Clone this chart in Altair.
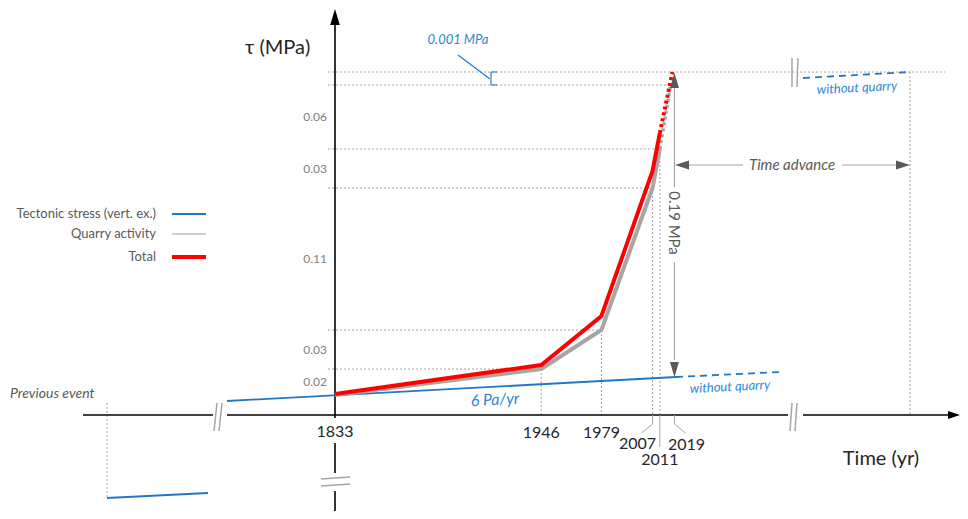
import altair as alt
import pandas as pd

# ---------------- data (schematic stress levels / years) ----------------
years = [1833, 1946, 1979, 2007, 2011]
proj_year = 2019
total_level = [394, 365, 316, 171, 133]      # schematic level of total stress
quarry_level = [395, 369, 330, 188, 149]     # schematic level of quarry-induced stress
total_proj = 72
quarry_proj = 86
guide_levels = [394, 369, 330, 188, 149, 85, 72]
increment_labels = ["0.02", "0.03", "0.11", "0.03", "0.06"]
year_labels = ["1833", "1946", "1979", "2007", "2011", "2019"]
year_label_dx = [0, 0, 0, -15, 0, 12]
year_label_row = [432, 433, 433, 444, 460, 445]
tectonic_x = [227, 676]
tectonic_level = [401, 377]
tectonic_future_x = [676, 780]
tectonic_future_level = [377, 372]
prev_event_x = [107, 208]
prev_event_level = [498, 493]
noquarry_x = [803, 910]
noquarry_level = [78, 72]
legend_names = ["Tectonic stress (vert. ex.)", "Quarry activity", "Total"]
legend_colors = ["#1f78c8", "#bfbfbf", "#ff0000"]
legend_widths = [2, 1.5, 4]
legend_rows = [214, 234, 257]

BLUE = "#1f78c8"
RED = "#ff0000"
GRAY = "#a6a6a6"
FONT = "Lato"

W, H = 952, 503
XS = alt.Scale(domain=[8, 8 + W], nice=False, zero=False)
YS = alt.Scale(domain=[8, 8 + H], nice=False, zero=False, reverse=True)


def xp(year):
    return 335 + (year - 1833) * 1.825


def segs(rows, color, width, dash=None, cap="butt"):
    df = pd.DataFrame(rows, columns=["x", "y", "x2", "y2"])
    kw = dict(color=color, strokeWidth=width, strokeCap=cap)
    if dash:
        kw["strokeDash"] = dash
    return alt.Chart(df).mark_rule(**kw).encode(
        x=alt.X("x:Q", scale=XS, axis=None),
        y=alt.Y("y:Q", scale=YS, axis=None),
        x2="x2:Q",
        y2="y2:Q",
    )


def poly(xv, yv, color, width, dash=None):
    df = pd.DataFrame({"x": xv, "y": yv, "o": list(range(len(xv)))})
    kw = dict(color=color, strokeWidth=width, strokeJoin="miter", strokeCap="butt")
    if dash:
        kw["strokeDash"] = dash
    return alt.Chart(df).mark_line(**kw).encode(
        x=alt.X("x:Q", scale=XS, axis=None),
        y=alt.Y("y:Q", scale=YS, axis=None),
        order="o:Q",
    )


def texts(rows, **style):
    df = pd.DataFrame(rows, columns=["x", "y", "t"])
    st = dict(font=FONT)
    st.update(style)
    return alt.Chart(df).mark_text(**st).encode(
        x=alt.X("x:Q", scale=XS, axis=None),
        y=alt.Y("y:Q", scale=YS, axis=None),
        text="t:N",
    )


def heads(rows, shape, size, color):
    df = pd.DataFrame(rows, columns=["x", "y"])
    return alt.Chart(df).mark_point(
        shape=shape, size=size, filled=True, color=color, opacity=1, strokeWidth=0
    ).encode(
        x=alt.X("x:Q", scale=XS, axis=None),
        y=alt.Y("y:Q", scale=YS, axis=None),
    )


UP = "M0,-1L0.6,1L-0.6,1Z"
DOWN = "M0,1L0.6,-1L-0.6,-1Z"
LEFT = "M-1,0L1,-0.65L1,0.65Z"
RIGHT = "M1,0L-1,-0.65L-1,0.65Z"

layers = []

# dotted guide lines
hguide_end = [xp(1946), xp(1979), xp(2007), xp(2011), xp(proj_year) - 2, 945]
hrows = [(328, lv, e, lv) for lv, e in zip(guide_levels[1:], hguide_end)]
vrows = [(xp(yr), lv, xp(yr), 415) for yr, lv in zip(years[1:], quarry_level[1:])]
vrows += [(910, 72, 910, 415), (107, 403, 107, 498)]
layers.append(segs(hrows + vrows, "#8c8c8c", 0.8, dash=[2, 2]))

# axes (black)
axis_rows = [
    (83, 415, 213, 415), (227, 415, 788, 415), (803, 415, 950, 415),
    (335, 24, 335, 418), (335, 443, 335, 473), (335, 491, 335, 520),
]
layers.append(segs(axis_rows, "#000000", 1.6))
layers.append(heads([(335, 17)], UP, 256, "#000000"))
layers.append(heads([(954, 415)], RIGHT, 144, "#000000"))

# axis breaks
brk = [
    (214, 431, 217, 403), (219, 431, 222, 403),
    (790, 431, 792, 403), (795, 431, 797, 403),
    (792, 87, 792, 58), (797, 87, 798, 58),
    (321, 479, 350, 477), (321, 486, 350, 484),
]
layers.append(segs(brk, GRAY, 1.5))

# year leader lines
lead = [
    (xp(2007), 415, xp(2007), 424), (xp(2007), 424, xp(2007) - 11, 433),
    (xp(2011), 415, xp(2011), 447),
    (xp(proj_year), 415, xp(proj_year), 424), (xp(proj_year), 424, xp(proj_year) + 11, 433),
]
layers.append(segs(lead, GRAY, 1))

# tectonic lines
layers.append(poly(tectonic_x, tectonic_level, BLUE, 1.8))
layers.append(poly(prev_event_x, prev_event_level, BLUE, 1.8))
layers.append(poly(tectonic_future_x, tectonic_future_level, BLUE, 1.8, dash=[7, 5]))
layers.append(poly(noquarry_x, noquarry_level, BLUE, 1.8, dash=[7, 5]))

# quarry + total
yx = [xp(y) for y in years]
layers.append(poly(yx, quarry_level, GRAY, 4))
layers.append(poly([yx[-1], xp(proj_year) - 4], [quarry_level[-1], quarry_proj], GRAY, 3.5, dash=[3, 3]))
layers.append(poly(yx, total_level, RED, 4))
layers.append(poly([yx[-1], xp(proj_year) - 2], [total_level[-1], total_proj], RED, 4, dash=[3, 3]))

# 0.19 MPa arrow and Time advance arrow
ax = xp(proj_year)
arrows = [(ax, 88, ax, 187), (ax, 262, ax, 360), (689, 165, 743, 165), (842, 165, 896, 165)]
layers.append(segs(arrows, "#a6a6a6", 1.2))
layers.append(heads([(ax, 80.5)], UP, 225, "#595959"))
layers.append(heads([(ax, 369.5)], DOWN, 225, "#595959"))
layers.append(heads([(682, 165)], LEFT, 196, "#595959"))
layers.append(heads([(903, 165)], RIGHT, 196, "#595959"))

# 0.001 MPa bracket
bracket = [(458, 55, 490, 79), (491, 72, 491, 85), (491, 72, 497, 72), (491, 85, 497, 85)]
layers.append(segs(bracket, BLUE, 1.1))

# legend
leg_lines = [(172, r, 206, r) for r in legend_rows]
for (x1, y1, x2, y2), c, w in zip(leg_lines, legend_colors, legend_widths):
    layers.append(segs([(x1, y1, x2, y2)], c, w))
layers.append(texts([(156, r, n) for r, n in zip(legend_rows, legend_names)],
                    align="right", baseline="middle", fontSize=13, color="#595959"))

# tick (increment) labels
mids = [(a + b) / 2 for a, b in zip(guide_levels[:-1], guide_levels[1:])][:len(increment_labels)]
layers.append(texts([(327, m, t) for m, t in zip(mids, increment_labels)],
                    align="right", baseline="middle", fontSize=12, color="#7f7f7f"))

# year labels
yrs_all = years + [proj_year]
layers.append(texts([(xp(y) + dx, r, t) for y, dx, r, t in zip(yrs_all, year_label_dx, year_label_row, year_labels)],
                    align="center", baseline="middle", fontSize=16, color="#262626"))

# titles
layers.append(texts([(245, 48, "τ (MPa)")], align="left", baseline="middle", fontSize=20, color="#262626"))
layers.append(texts([(881, 459, "Time (yr)")], align="center", baseline="middle", fontSize=20, color="#262626"))

# annotations
layers.append(texts([(10, 394, "Previous event")], align="left", baseline="middle",
                    fontSize=14, fontStyle="italic", color="#595959"))
layers.append(texts([(792, 165, "Time advance")], align="center", baseline="middle",
                    fontSize=15, fontStyle="italic", color="#595959"))
layers.append(texts([(ax, 223, "0.19 MPa")], align="center", baseline="middle",
                    fontSize=15, angle=90, color="#595959"))
layers.append(texts([(458, 40, "0.001 MPa")], align="center", baseline="middle",
                    fontSize=13, fontStyle="italic", color="#2e86d6"))
layers.append(texts([(495, 400, "6 Pa/yr")], align="center", baseline="middle",
                    fontSize=16, fontStyle="italic", color="#2e86d6", angle=357))
layers.append(texts([(730, 387, "without quarry"), (857, 88, "without quarry")], align="center",
                    baseline="middle", fontSize=13, fontStyle="italic", color="#2e86d6", angle=357))

chart = alt.layer(*layers).properties(
    width=W, height=H, padding=0, autosize="none", background="white"
).configure_view(stroke=None)

chart.save("out.html", embed_options={"renderer": "svg", "actions": False})
